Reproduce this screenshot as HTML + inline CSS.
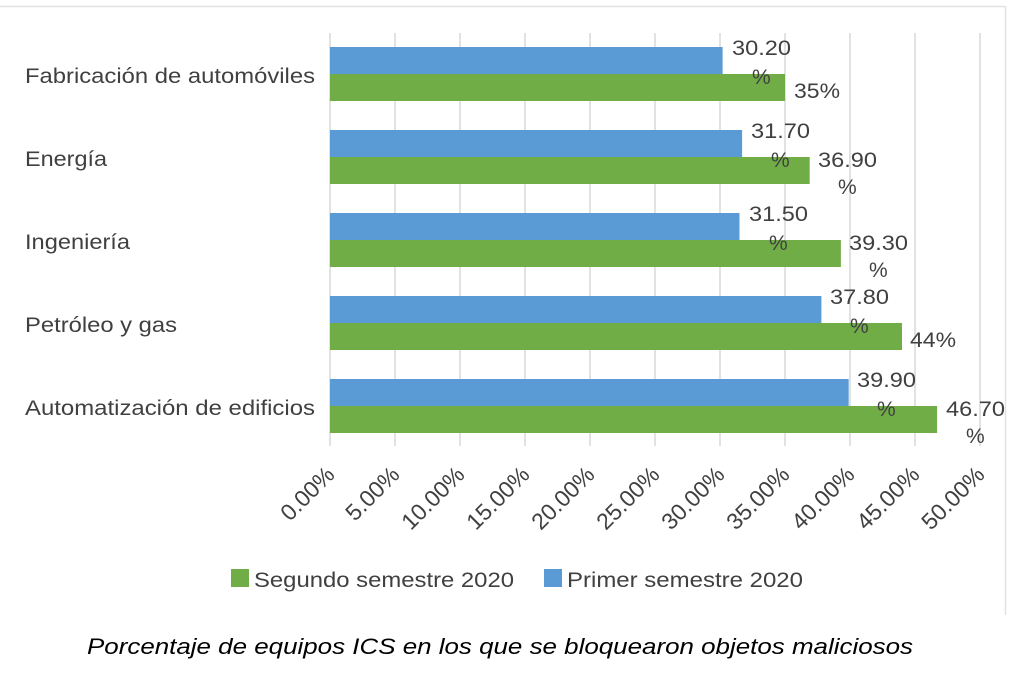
<!DOCTYPE html>
<html><head><meta charset="utf-8"><style>
body{margin:0;background:#fff;}
svg text{font-family:"Liberation Sans",sans-serif;}
</style></head><body>
<svg width="1014" height="674" xmlns="http://www.w3.org/2000/svg">
<rect width="1014" height="674" fill="#fff"/>
<line x1="0" y1="6.5" x2="1005" y2="6.5" stroke="#e2e2e2" stroke-width="1.5"/>
<line x1="1005.5" y1="6" x2="1005.5" y2="615" stroke="#e2e2e2" stroke-width="1.5"/>
<g stroke="#d9d9d9" stroke-width="1.5">
<line x1="330" y1="33" x2="330" y2="446"/><line x1="395" y1="33" x2="395" y2="446"/><line x1="460" y1="33" x2="460" y2="446"/><line x1="525" y1="33" x2="525" y2="446"/><line x1="590" y1="33" x2="590" y2="446"/><line x1="655" y1="33" x2="655" y2="446"/><line x1="720" y1="33" x2="720" y2="446"/><line x1="785" y1="33" x2="785" y2="446"/><line x1="850" y1="33" x2="850" y2="446"/><line x1="915" y1="33" x2="915" y2="446"/><line x1="980" y1="33" x2="980" y2="446"/>
</g>
<g>
<rect x="330" y="47" width="392.6" height="27" fill="#5b9bd5"/><rect x="330" y="74" width="455" height="27" fill="#70ad47"/>
<rect x="330" y="130" width="412.1" height="27" fill="#5b9bd5"/><rect x="330" y="157" width="479.7" height="27" fill="#70ad47"/>
<rect x="330" y="213" width="409.5" height="27" fill="#5b9bd5"/><rect x="330" y="240" width="510.9" height="27" fill="#70ad47"/>
<rect x="330" y="296" width="491.4" height="27" fill="#5b9bd5"/><rect x="330" y="323" width="572" height="27" fill="#70ad47"/>
<rect x="330" y="379" width="518.7" height="27" fill="#5b9bd5"/><rect x="330" y="406" width="607.1" height="27" fill="#70ad47"/>
</g>
<g font-size="21" fill="#404040" lengthAdjust="spacingAndGlyphs">
<text x="25" y="83" textLength="290" lengthAdjust="spacingAndGlyphs">Fabricación de automóviles</text>
<text x="25" y="166" textLength="82" lengthAdjust="spacingAndGlyphs">Energía</text>
<text x="25" y="249" textLength="105" lengthAdjust="spacingAndGlyphs">Ingeniería</text>
<text x="25" y="332" textLength="152" lengthAdjust="spacingAndGlyphs">Petróleo y gas</text>
<text x="25" y="415" textLength="290" lengthAdjust="spacingAndGlyphs">Automatización de edificios</text>
</g>
<g font-size="21" fill="#404040">
<text x="732" y="55" textLength="59" lengthAdjust="spacingAndGlyphs">30.20</text><text x="752" y="84">%</text><text x="794" y="98" textLength="46" lengthAdjust="spacingAndGlyphs">35%</text>
<text x="751" y="138" textLength="59" lengthAdjust="spacingAndGlyphs">31.70</text><text x="771" y="167">%</text><text x="818" y="167" textLength="59" lengthAdjust="spacingAndGlyphs">36.90</text><text x="838" y="194">%</text>
<text x="749" y="221" textLength="59" lengthAdjust="spacingAndGlyphs">31.50</text><text x="769" y="250">%</text><text x="849" y="250" textLength="59" lengthAdjust="spacingAndGlyphs">39.30</text><text x="869" y="277">%</text>
<text x="830" y="304" textLength="59" lengthAdjust="spacingAndGlyphs">37.80</text><text x="850" y="333">%</text><text x="910" y="347" textLength="46" lengthAdjust="spacingAndGlyphs">44%</text>
<text x="857" y="387" textLength="59" lengthAdjust="spacingAndGlyphs">39.90</text><text x="877" y="416">%</text><text x="946" y="416" textLength="59" lengthAdjust="spacingAndGlyphs">46.70</text><text x="966" y="443">%</text>
</g>
<g font-size="23" fill="#404040" text-anchor="end">
<text transform="translate(336,476) rotate(-45)">0.00%</text>
<text transform="translate(401,476) rotate(-45)">5.00%</text>
<text transform="translate(466,476) rotate(-45)">10.00%</text>
<text transform="translate(531,476) rotate(-45)">15.00%</text>
<text transform="translate(596,476) rotate(-45)">20.00%</text>
<text transform="translate(661,476) rotate(-45)">25.00%</text>
<text transform="translate(726,476) rotate(-45)">30.00%</text>
<text transform="translate(791,476) rotate(-45)">35.00%</text>
<text transform="translate(856,476) rotate(-45)">40.00%</text>
<text transform="translate(921,476) rotate(-45)">45.00%</text>
<text transform="translate(986,476) rotate(-45)">50.00%</text>
</g>
<rect x="231" y="569" width="18" height="18" fill="#70ad47"/>
<text x="254" y="587" font-size="21" fill="#404040" textLength="260" lengthAdjust="spacingAndGlyphs">Segundo semestre 2020</text>
<rect x="544" y="569" width="18" height="18" fill="#5b9bd5"/>
<text x="567" y="587" font-size="21" fill="#404040" textLength="236" lengthAdjust="spacingAndGlyphs">Primer semestre 2020</text>
<text x="87" y="654" font-size="22" font-style="italic" fill="#000" textLength="826" lengthAdjust="spacingAndGlyphs">Porcentaje de equipos ICS en los que se bloquearon objetos maliciosos</text>
</svg>
</body></html>
